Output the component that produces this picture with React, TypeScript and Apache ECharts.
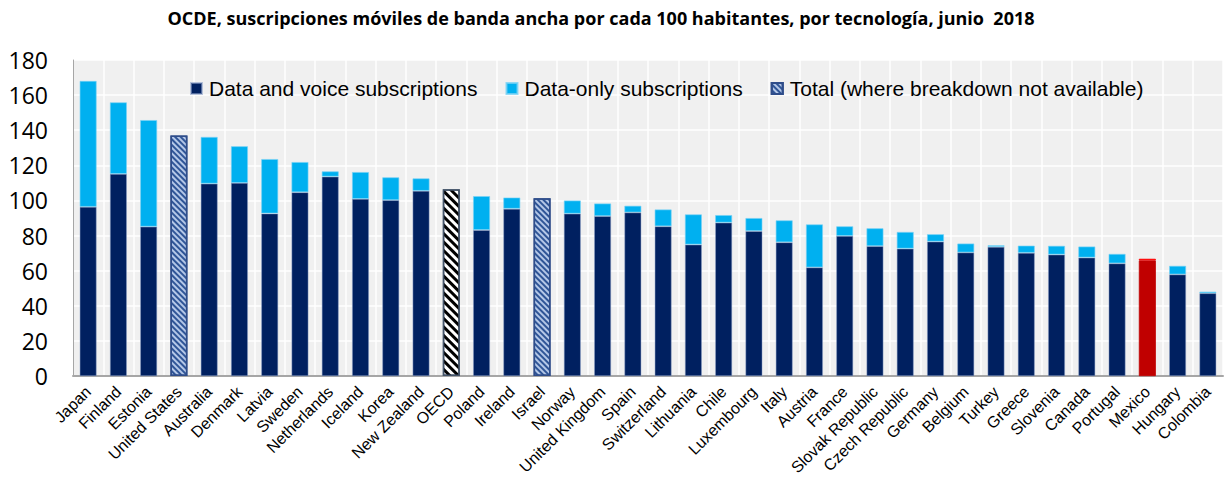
import React, { useEffect, useRef } from "react";
import * as echarts from "echarts";

const titleText = "OCDE, suscripciones móviles de banda ancha por cada 100 habitantes, por tecnología, junio  2018";

const categories = [
  "Japan", "Finland", "Estonia", "United States", "Australia", "Denmark", "Latvia", "Sweden",
  "Netherlands", "Iceland", "Korea", "New Zealand", "OECD", "Poland", "Ireland", "Israel",
  "Norway", "United Kingdom", "Spain", "Switzerland", "Lithuania", "Chile", "Luxembourg", "Italy",
  "Austria", "France", "Slovak Republic", "Czech Republic", "Germany", "Belgium", "Turkey", "Greece",
  "Slovenia", "Canada", "Portugal", "Mexico", "Hungary", "Colombia",
];

const dataVoice = [
  96.4, 115.1, 85.1, null, 109.6, 110.0, 92.6, 104.7,
  113.6, 100.9, 100.2, 105.5, null, 83.2, 95.3, null,
  92.5, 91.1, 93.2, 85.3, 74.9, 87.4, 82.6, 76.2,
  61.9, 79.8, 74.0, 72.6, 76.6, 70.4, 73.6, 70.2,
  69.2, 67.5, 64.2, 65.9, 57.9, 47.2,
];

const dataOnly = [
  71.7, 40.8, 60.7, null, 26.6, 20.9, 31.0, 17.2,
  3.0, 15.3, 13.0, 7.1, null, 19.3, 6.4, null,
  7.5, 7.2, 3.8, 9.6, 17.2, 4.3, 7.4, 12.5,
  24.5, 5.5, 10.2, 9.5, 4.2, 5.1, 0.9, 4.1,
  5.0, 6.3, 5.4, 0.9, 4.9, 0.9,
];

const totalOnly = [
  null, null, null, 137.0, null, null, null, null,
  null, null, null, null, 106.4, null, null, 101.3,
  null, null, null, null, null, null, null, null,
  null, null, null, null, null, null, null, null,
  null, null, null, null, null, null,
];

const yTicks = { min: 0, max: 180, interval: 20 };
const highlight = "Mexico";
const aggregate = "OECD";

export default function App() {
  const ref = useRef<HTMLDivElement>(null);

  useEffect(() => {
    if (!ref.current) return;
    const chart = echarts.init(ref.current, null, { renderer: "svg" });

    const navy = "#002060";
    const cyan = "#00b0f0";
    const barBorder = "rgba(140,160,200,0.6)";

    const dvData = dataVoice.map((v, i) =>
      categories[i] === highlight
        ? { value: v, itemStyle: { color: "#c00000", borderColor: "#c00000" } }
        : v
    );
    const doData = dataOnly.map((v, i) =>
      categories[i] === highlight
        ? { value: v, itemStyle: { color: "#ff0000", borderColor: "#ff0000" } }
        : v
    );
    const totData = totalOnly.map((v, i) =>
      categories[i] === aggregate
        ? {
            value: v,
            itemStyle: {
              color: "#ffffff",
              borderColor: "#44546a",
              borderWidth: 1.5,
              decal: {
                symbol: "rect",
                symbolSize: 1,
                dashArrayX: [1, 0],
                dashArrayY: [3, 3],
                rotation: Math.PI / 4,
                color: "#000000",
              },
            },
          }
        : v
    );

    chart.setOption({
      animation: false,
      backgroundColor: "#ffffff",
      title: {
        text: titleText,
        left: 596,
        textAlign: "center",
        top: 4,
        textStyle: {
          fontFamily: "Open Sans",
          fontWeight: "bold",
          fontSize: 18,
          color: "#000",
        },
      },
      legend: {
        left: 185,
        top: 73,
        itemWidth: 11,
        itemHeight: 11,
        itemGap: 28,
        icon: "rect",
        textStyle: {
          fontFamily: "Liberation Sans",
          fontSize: 21,
          color: "#000",
          padding: [0, 0, 0, 2],
        },
        data: [
          "Data and voice subscriptions",
          "Data-only subscriptions",
          "Total (where breakdown not available)",
        ],
      },
      grid: {
        left: 73,
        right: 2,
        top: 60,
        bottom: 100,
        show: true,
        backgroundColor: "#f0f0f0",
        borderWidth: 0,
      },
      xAxis: {
        type: "category",
        data: categories,
        axisLine: { show: true, lineStyle: { color: "#a6a6a6", width: 2 } },
        axisTick: { show: false },
        splitLine: { show: true, lineStyle: { color: "#ffffff", width: 1.5 } },
        axisLabel: {
          rotate: 45,
          interval: 0,
          margin: 13,
          fontFamily: "Liberation Sans",
          fontSize: 16,
          color: "#000",
        },
      },
      yAxis: {
        type: "value",
        min: yTicks.min,
        max: yTicks.max,
        interval: yTicks.interval,
        axisLine: { show: true, lineStyle: { color: "#a6a6a6", width: 1 } },
        axisTick: { show: false },
        splitLine: { show: true, lineStyle: { color: "#ffffff", width: 1.5 } },
        axisLabel: {
          margin: 25,
          fontFamily: "Open Sans",
          fontSize: 23,
          color: "#000",
        },
      },
      series: [
        {
          name: "Data and voice subscriptions",
          type: "bar",
          stack: "a",
          barWidth: 17,
          data: dvData,
          itemStyle: { color: navy, borderColor: barBorder, borderWidth: 0.8 },
        },
        {
          name: "Data-only subscriptions",
          type: "bar",
          stack: "a",
          barWidth: 17,
          data: doData,
          itemStyle: { color: cyan, borderColor: "rgba(120,210,245,0.8)", borderWidth: 0.8 },
        },
        {
          name: "Total (where breakdown not available)",
          type: "bar",
          stack: "a",
          barWidth: 17,
          data: totData,
          itemStyle: {
            color: "#b4c7e7",
            borderColor: "#2f4d8a",
            borderWidth: 1.5,
            decal: {
              symbol: "rect",
              symbolSize: 1,
              dashArrayX: [1, 0],
              dashArrayY: [2, 2],
              rotation: Math.PI / 4,
              color: "#2f5597",
            },
          },
        },
      ],
    });

    return () => chart.dispose();
  }, []);

  return (
    <div
      ref={ref}
      style={{ position: "fixed", left: 0, top: 0, width: 1225, height: 478, background: "#fff" }}
    />
  );
}
